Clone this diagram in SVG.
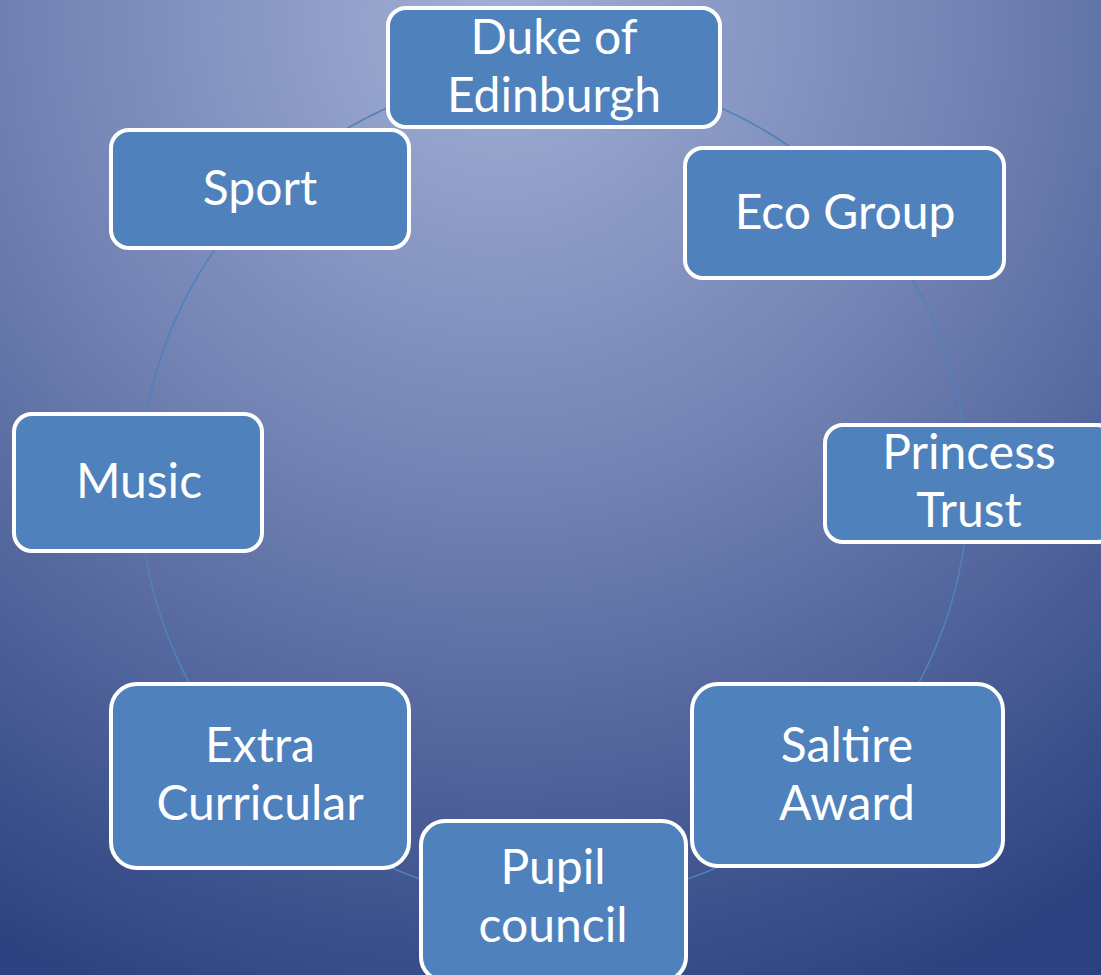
<svg xmlns="http://www.w3.org/2000/svg" width="1101" height="975" viewBox="0 0 1101 975">
<defs>
<radialGradient id="bg" gradientUnits="userSpaceOnUse" cx="500" cy="20" r="1050">
<stop offset="0" stop-color="#A2B0D5"/>
<stop offset="0.45" stop-color="#7282B3"/>
<stop offset="1" stop-color="#2C4280"/>
</radialGradient>
<style>
.node rect{fill:#4F81BD;stroke:#FFFFFF;stroke-width:4}
.node text{fill:#FFFFFF;font-family:Lato,"Open Sans",sans-serif;font-size:48px;text-anchor:middle}
.conn{fill:none;stroke:#4F81BD;stroke-width:1.6}
</style>
</defs>
<rect x="0" y="0" width="1101" height="975" fill="url(#bg)"/>
<g id="connectors">
<circle class="conn" cx="554" cy="487" r="414"/>
</g>
<g id="duke" class="node"><rect x="388" y="8" width="332" height="119" rx="18"/><text x="554" y="54">Duke of</text><text x="554" y="112">Edinburgh</text></g>
<g id="sport" class="node"><rect x="111" y="130" width="298" height="118" rx="18"/><text x="260" y="205">Sport</text></g>
<g id="eco" class="node"><rect x="685" y="148" width="319" height="130" rx="18"/><text x="845" y="229">Eco Group</text></g>
<g id="princess" class="node"><rect x="825" y="425" width="290" height="117" rx="18"/><text x="969" y="469">Princess</text><text x="969" y="527">Trust</text></g>
<g id="music" class="node"><rect x="14" y="414" width="248" height="137" rx="18"/><text x="139" y="498">Music</text></g>
<g id="extra" class="node"><rect x="111" y="684" width="298" height="184" rx="26"/><text x="260" y="762">Extra</text><text x="260" y="820">Curricular</text></g>
<g id="saltire" class="node"><rect x="692" y="684" width="311" height="182" rx="26"/><text x="847" y="762">Saltire</text><text x="847" y="820">Award</text></g>
<g id="pupil" class="node"><rect x="421" y="821" width="265" height="160" rx="24"/><text x="553" y="884">Pupil</text><text x="553" y="942">council</text></g>
</svg>
